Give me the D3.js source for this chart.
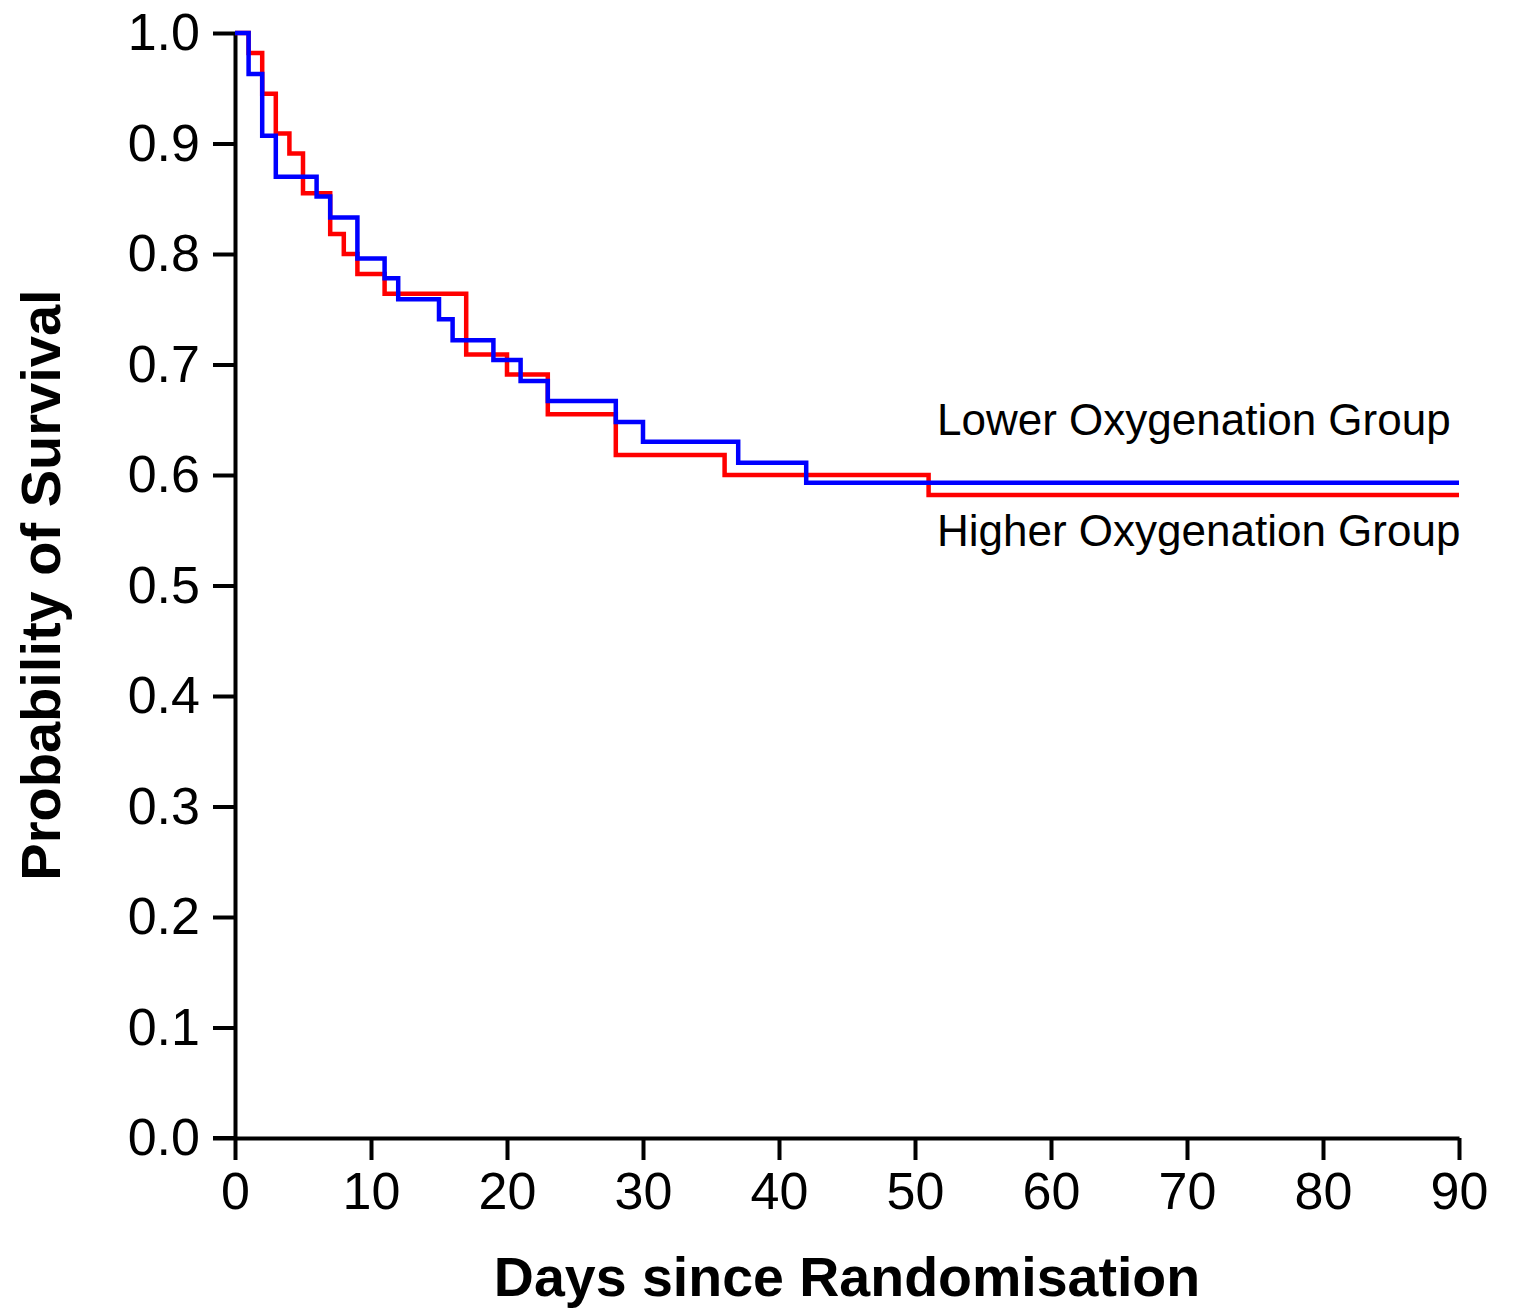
<!DOCTYPE html>
<html>
<head>
<meta charset="utf-8">
<script src="https://cdn.jsdelivr.net/npm/d3@7"></script>
<style>
  html, body { margin: 0; padding: 0; background: #fff; }
  svg { display: block; font-family: "Liberation Sans", Arial, sans-serif; }
</style>
</head>
<body>
<svg id="chart" width="1513" height="1309"></svg>
<script>
// Kaplan-Meier steps (day of drop, survival after drop)
const higherDays  = [0, 1, 2, 3, 4, 5, 7, 8, 9, 11, 17, 20, 23, 28, 36, 51];
const higherSurv  = [1.0, 0.982, 0.945, 0.909, 0.891, 0.855, 0.818, 0.800, 0.782, 0.764, 0.709, 0.691, 0.655, 0.618, 0.600, 0.582];
const lowerDays   = [0, 1, 2, 3, 6, 7, 9, 11, 12, 15, 16, 19, 21, 23, 28, 30, 37, 42];
const lowerSurv   = [1.0, 0.963, 0.907, 0.870, 0.852, 0.833, 0.796, 0.778, 0.759, 0.741, 0.722, 0.704, 0.685, 0.667, 0.648, 0.630, 0.611, 0.593];
const endDay = 90;
const xTicks = [0, 10, 20, 30, 40, 50, 60, 70, 80, 90];
const yTicks = [0.0, 0.1, 0.2, 0.3, 0.4, 0.5, 0.6, 0.7, 0.8, 0.9, 1.0];
const seriesLabels = ["Lower Oxygenation Group", "Higher Oxygenation Group"];
const xTitle = "Days since Randomisation";
const yTitle = "Probability of Survival";

const svg = d3.select("#chart");
const x = d3.scaleLinear().domain([0, 90]).range([235, 1459]);
const y = d3.scaleLinear().domain([0, 1]).range([1138, 33]);

function toPts(days, surv) {
  const pts = days.map((d, i) => [d, surv[i]]);
  pts.push([endDay, surv[surv.length - 1]]);
  return pts;
}
const line = d3.line().x(d => x(d[0])).y(d => y(d[1])).curve(d3.curveStepAfter);

// axes
const xAxis = d3.axisBottom(x).tickValues(xTicks).tickFormat(d3.format("d"))
  .tickSize(22).tickPadding(12).tickSizeOuter(0);
const yAxis = d3.axisLeft(y).tickValues(yTicks).tickFormat(d3.format(".1f"))
  .tickSize(22).tickPadding(13).tickSizeOuter(0);

const gx = svg.append("g").attr("transform", "translate(0,1138)").call(xAxis);
const gy = svg.append("g").attr("transform", "translate(235,0)").call(yAxis);
[gx, gy].forEach(g => {
  g.selectAll("path.domain").attr("stroke", "#000").attr("stroke-width", 4);
  g.selectAll(".tick line").attr("stroke", "#000").attr("stroke-width", 4);
  g.selectAll(".tick text").attr("fill", "#000").style("font-size", "52px")
    .style("font-family", '"Liberation Sans", Arial, sans-serif');
});
// extend x domain line to meet the y tick at 0
svg.append("line").attr("x1", 213).attr("x2", 235).attr("y1", 1138).attr("y2", 1138)
  .attr("stroke", "#000").attr("stroke-width", 4);

// curves
svg.append("path").datum(toPts(higherDays, higherSurv))
  .attr("d", line).attr("fill", "none").attr("stroke", "#ff0000").attr("stroke-width", 4.5);
svg.append("path").datum(toPts(lowerDays, lowerSurv))
  .attr("d", line).attr("fill", "none").attr("stroke", "#0000ff").attr("stroke-width", 4.5);

// series labels
svg.append("text").attr("x", 937).attr("y", 435).text(seriesLabels[0])
  .style("font-size", "44px").attr("fill", "#000");
svg.append("text").attr("x", 937).attr("y", 546).text(seriesLabels[1])
  .style("font-size", "44px").attr("fill", "#000");

// axis titles
svg.append("text").attr("x", 847).attr("y", 1296).attr("text-anchor", "middle")
  .style("font-size", "55.5px").style("font-weight", "bold").text(xTitle);
svg.append("text").attr("transform", "translate(60,585) rotate(-90)").attr("text-anchor", "middle")
  .style("font-size", "56px").style("font-weight", "bold").text(yTitle);
</script>
</body>
</html>
